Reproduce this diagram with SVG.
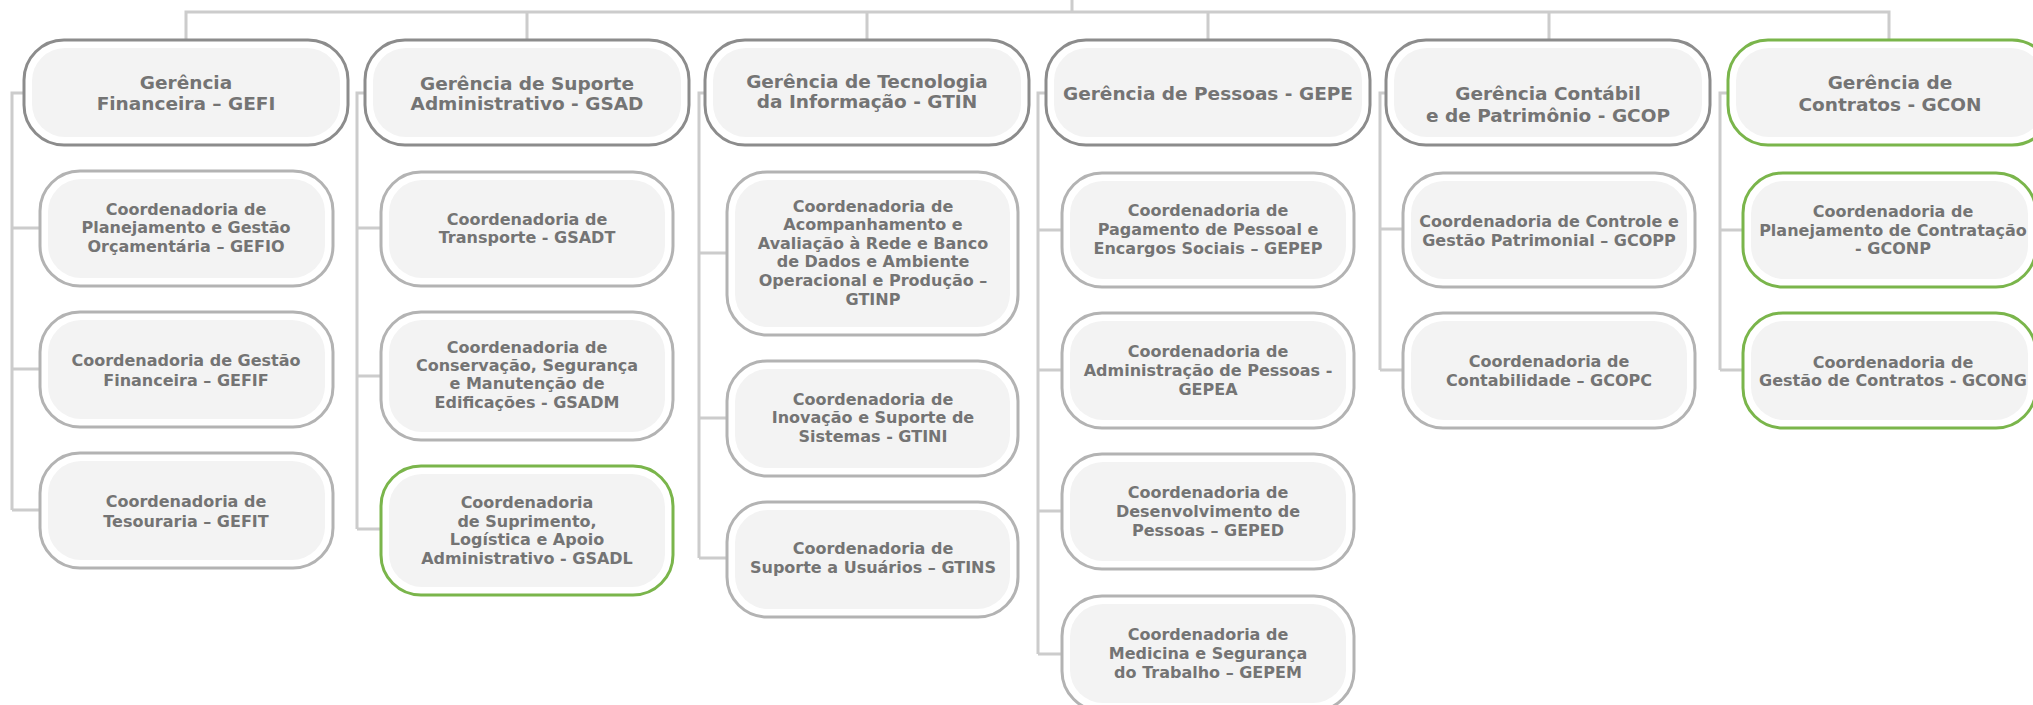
<svg xmlns="http://www.w3.org/2000/svg" width="2033" height="705" viewBox="0 0 2033 705">
<style>
.bg{fill:#ffffff}
.o{fill:#ffffff;stroke-width:3}
.m{stroke:#8c8c8c}
.s{stroke:#b3b3b3}
.g{stroke:#7ab54b}
.in{fill:#f3f3f3}
.conn path{fill:none;stroke:#cccccc;stroke-width:3}
text{font-family:"DejaVu Sans","Liberation Sans",sans-serif;font-weight:bold;fill:#747474;text-anchor:middle}
.tm{font-size:18.5px}
.ts{font-size:16px}
</style>
<rect class="bg" x="0" y="0" width="2033" height="705"/>
<g id="connectors" class="conn">
<path d="M1072 0V12M186 40V12H1889V40M527 12V40M867 12V40M1208 12V40M1549 12V40"/>
<path d="M24 93H12V510M12 228H40M12 369H40M12 510H40"/>
<path d="M365 93H357V529M357 228H381M357 376H381M357 529H381"/>
<path d="M705 93H699V558M699 253H727M699 418H727M699 558H727"/>
<path d="M1046 93H1038V654M1038 230H1062M1038 370H1062M1038 511H1062M1038 654H1062"/>
<path d="M1386 93H1380V370M1380 229H1403M1380 370H1403"/>
<path d="M1728 93H1720V370M1720 230H1743M1720 370H1743"/>
</g>

<g id="GEFI"><rect class="o m" x="24" y="40" width="324" height="105" rx="40"/><rect class="in" x="32" y="48" width="308" height="89" rx="33"/>
<text class="tm" x="186" y="89">Gerência</text><text class="tm" x="186" y="110">Financeira – GEFI</text></g>
<g id="GSAD"><rect class="o m" x="365" y="40" width="324" height="105" rx="40"/><rect class="in" x="373" y="48" width="308" height="89" rx="33"/>
<text class="tm" x="527" y="90">Gerência de Suporte</text><text class="tm" x="527" y="110">Administrativo - GSAD</text></g>
<g id="GTIN"><rect class="o m" x="705" y="40" width="324" height="105" rx="40"/><rect class="in" x="713" y="48" width="308" height="89" rx="33"/>
<text class="tm" x="867" y="88">Gerência de Tecnologia</text><text class="tm" x="867" y="108">da Informação - GTIN</text></g>
<g id="GEPE"><rect class="o m" x="1046" y="40" width="324" height="105" rx="40"/><rect class="in" x="1054" y="48" width="308" height="89" rx="33"/>
<text class="tm" x="1208" y="100">Gerência de Pessoas - GEPE</text></g>
<g id="GCOP"><rect class="o m" x="1386" y="40" width="324" height="105" rx="40"/><rect class="in" x="1394" y="48" width="308" height="89" rx="33"/>
<text class="tm" x="1548" y="100">Gerência Contábil</text><text class="tm" x="1548" y="122">e de Patrimônio - GCOP</text></g>
<g id="GCON"><rect class="o g" x="1728" y="40" width="324" height="105" rx="40"/><rect class="in" x="1736" y="48" width="308" height="89" rx="33"/>
<text class="tm" x="1890" y="89">Gerência de</text><text class="tm" x="1890" y="111">Contratos - GCON</text></g>

<g id="GEFIO"><rect class="o s" x="40" y="171" width="293" height="115" rx="40"/><rect class="in" x="48" y="179" width="277" height="99" rx="33"/>
<text class="ts" x="186" y="215">Coordenadoria de</text><text class="ts" x="186" y="233">Planejamento e Gestão</text><text class="ts" x="186" y="252">Orçamentária – GEFIO</text></g>
<g id="GEFIF"><rect class="o s" x="40" y="312" width="293" height="115" rx="40"/><rect class="in" x="48" y="320" width="277" height="99" rx="33"/>
<text class="ts" x="186" y="366">Coordenadoria de Gestão</text><text class="ts" x="186" y="386">Financeira – GEFIF</text></g>
<g id="GEFIT"><rect class="o s" x="40" y="453" width="293" height="115" rx="40"/><rect class="in" x="48" y="461" width="277" height="99" rx="33"/>
<text class="ts" x="186" y="507">Coordenadoria de</text><text class="ts" x="186" y="527">Tesouraria – GEFIT</text></g>

<g id="GSADT"><rect class="o s" x="381" y="172" width="292" height="114" rx="40"/><rect class="in" x="389" y="180" width="276" height="98" rx="33"/>
<text class="ts" x="527" y="225">Coordenadoria de</text><text class="ts" x="527" y="243">Transporte - GSADT</text></g>
<g id="GSADM"><rect class="o s" x="381" y="312" width="292" height="128" rx="40"/><rect class="in" x="389" y="320" width="276" height="112" rx="33"/>
<text class="ts" x="527" y="353">Coordenadoria de</text><text class="ts" x="527" y="371">Conservação, Segurança</text><text class="ts" x="527" y="389">e Manutenção de</text><text class="ts" x="527" y="408">Edificações - GSADM</text></g>
<g id="GSADL"><rect class="o g" x="381" y="466" width="292" height="129" rx="40"/><rect class="in" x="389" y="474" width="276" height="113" rx="33"/>
<text class="ts" x="527" y="508">Coordenadoria</text><text class="ts" x="527" y="527">de Suprimento,</text><text class="ts" x="527" y="545">Logística e Apoio</text><text class="ts" x="527" y="564">Administrativo - GSADL</text></g>

<g id="GTINP"><rect class="o s" x="727" y="172" width="291" height="163" rx="40"/><rect class="in" x="735" y="180" width="275" height="147" rx="33"/>
<text class="ts" x="873" y="212">Coordenadoria de</text><text class="ts" x="873" y="230">Acompanhamento e</text><text class="ts" x="873" y="249">Avaliação à Rede e Banco</text><text class="ts" x="873" y="267">de Dados e Ambiente</text><text class="ts" x="873" y="286">Operacional e Produção –</text><text class="ts" x="873" y="305">GTINP</text></g>
<g id="GTINI"><rect class="o s" x="727" y="361" width="291" height="115" rx="40"/><rect class="in" x="735" y="369" width="275" height="99" rx="33"/>
<text class="ts" x="873" y="405">Coordenadoria de</text><text class="ts" x="873" y="423">Inovação e Suporte de</text><text class="ts" x="873" y="442">Sistemas - GTINI</text></g>
<g id="GTINS"><rect class="o s" x="727" y="502" width="291" height="115" rx="40"/><rect class="in" x="735" y="510" width="275" height="99" rx="33"/>
<text class="ts" x="873" y="554">Coordenadoria de</text><text class="ts" x="873" y="573">Suporte a Usuários – GTINS</text></g>

<g id="GEPEP"><rect class="o s" x="1062" y="173" width="292" height="114" rx="40"/><rect class="in" x="1070" y="181" width="276" height="98" rx="33"/>
<text class="ts" x="1208" y="216">Coordenadoria de</text><text class="ts" x="1208" y="235">Pagamento de Pessoal e</text><text class="ts" x="1208" y="254">Encargos Sociais – GEPEP</text></g>
<g id="GEPEA"><rect class="o s" x="1062" y="313" width="292" height="115" rx="40"/><rect class="in" x="1070" y="321" width="276" height="99" rx="33"/>
<text class="ts" x="1208" y="357">Coordenadoria de</text><text class="ts" x="1208" y="376">Administração de Pessoas -</text><text class="ts" x="1208" y="395">GEPEA</text></g>
<g id="GEPED"><rect class="o s" x="1062" y="454" width="292" height="115" rx="40"/><rect class="in" x="1070" y="462" width="276" height="99" rx="33"/>
<text class="ts" x="1208" y="498">Coordenadoria de</text><text class="ts" x="1208" y="517">Desenvolvimento de</text><text class="ts" x="1208" y="536">Pessoas – GEPED</text></g>
<g id="GEPEM"><rect class="o s" x="1062" y="596" width="292" height="115" rx="40"/><rect class="in" x="1070" y="604" width="276" height="99" rx="33"/>
<text class="ts" x="1208" y="640">Coordenadoria de</text><text class="ts" x="1208" y="659">Medicina e Segurança</text><text class="ts" x="1208" y="678">do Trabalho – GEPEM</text></g>

<g id="GCOPP"><rect class="o s" x="1403" y="173" width="292" height="114" rx="40"/><rect class="in" x="1411" y="181" width="276" height="98" rx="33"/>
<text class="ts" x="1549" y="227">Coordenadoria de Controle e</text><text class="ts" x="1549" y="246">Gestão Patrimonial – GCOPP</text></g>
<g id="GCOPC"><rect class="o s" x="1403" y="313" width="292" height="115" rx="40"/><rect class="in" x="1411" y="321" width="276" height="99" rx="33"/>
<text class="ts" x="1549" y="367">Coordenadoria de</text><text class="ts" x="1549" y="386">Contabilidade – GCOPC</text></g>

<g id="GCONP"><rect class="o g" x="1743" y="173" width="293" height="114" rx="40"/><rect class="in" x="1751" y="181" width="277" height="98" rx="33"/>
<text class="ts" x="1893" y="217">Coordenadoria de</text><text class="ts" x="1893" y="236">Planejamento de Contratação</text><text class="ts" x="1893" y="254">- GCONP</text></g>
<g id="GCONG"><rect class="o g" x="1743" y="313" width="293" height="115" rx="40"/><rect class="in" x="1751" y="321" width="277" height="99" rx="33"/>
<text class="ts" x="1893" y="368">Coordenadoria de</text><text class="ts" x="1893" y="386">Gestão de Contratos - GCONG</text></g>
</svg>
